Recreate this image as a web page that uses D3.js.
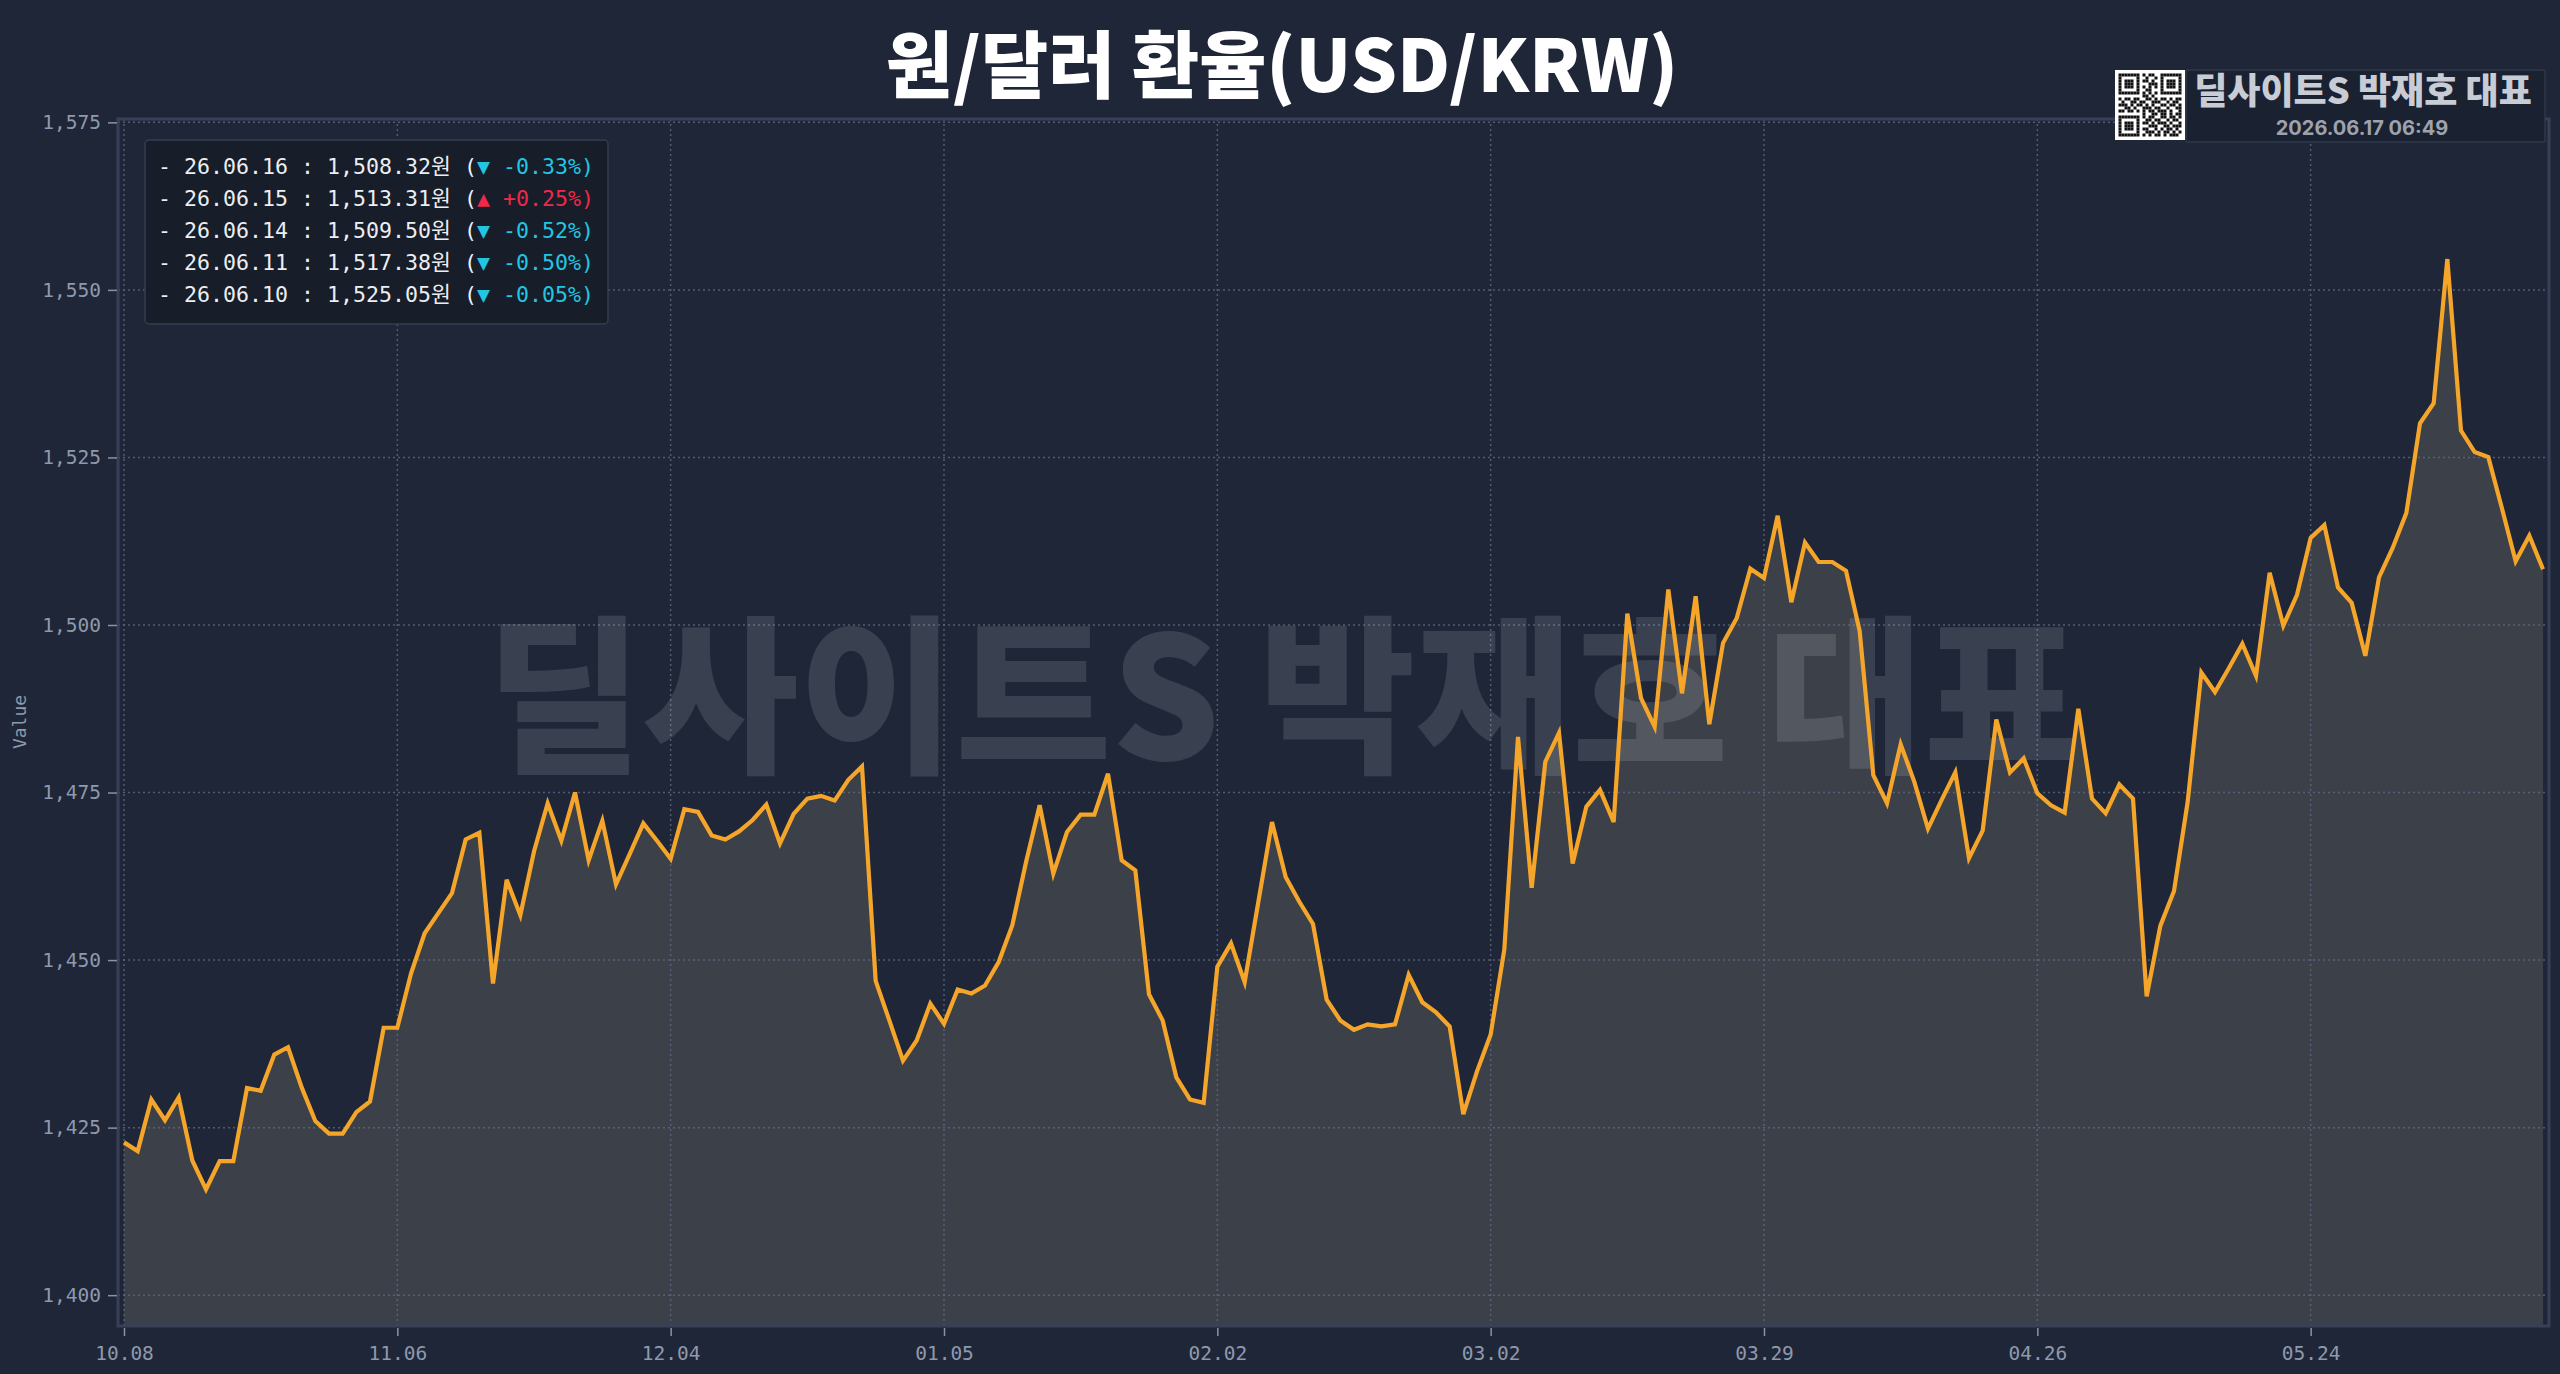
<!DOCTYPE html>
<html>
<head>
<meta charset="utf-8">
<script src="https://cdn.jsdelivr.net/npm/d3@7"></script>
<style>
  html, body { margin: 0; padding: 0; background: #1e2638; }
  svg { display: block; }
</style>
</head>
<body>
<div id="chart"></div>
<script>
// x axis: one label every 20 points
var tickLabels = ["10.08", "11.06", "12.04", "01.05", "02.02", "03.02", "03.29", "04.26", "05.24"];
var tickEvery = 20;
var yTicks = [1400, 1425, 1450, 1475, 1500, 1525, 1550, 1575];

// USD/KRW daily close
var rates = [
  1422.8, 1421.5, 1429.2, 1426.1, 1429.5, 1420.1, 1415.8, 1420.0, 1420.0, 1430.9,
  1430.5, 1435.9, 1437.0, 1431.0, 1426.0, 1424.1, 1424.1, 1427.3, 1428.9, 1439.9,
  1439.9, 1448.0, 1454.0, 1457.0, 1460.0, 1468.0, 1469.0, 1446.5, 1462.0, 1456.7,
  1466.2, 1473.4, 1467.8, 1475.0, 1464.9, 1470.8, 1461.3, 1465.8, 1470.4, 1467.8,
  1465.1, 1472.5, 1472.1, 1468.6, 1468.0, 1469.2, 1470.9, 1473.2, 1467.4, 1471.8,
  1474.1, 1474.5, 1473.8, 1476.9, 1478.9, 1446.9, 1441.0, 1435.0, 1438.0, 1443.5,
  1440.5, 1445.6, 1445.0, 1446.2, 1449.7, 1455.2, 1464.6, 1473.1, 1462.9, 1469.1,
  1471.7, 1471.7, 1477.8, 1464.9, 1463.4, 1444.9, 1441.0, 1432.5, 1429.2, 1428.7,
  1449.0, 1452.5, 1446.7, 1458.7, 1470.6, 1462.4, 1458.7, 1455.4, 1444.1, 1441.0,
  1439.6, 1440.4, 1440.1, 1440.4, 1447.8, 1443.7, 1442.2, 1440.1, 1427.0, 1433.4,
  1438.9, 1451.6, 1483.3, 1460.8, 1479.6, 1483.9, 1464.4, 1472.9, 1475.4, 1470.6,
  1501.7, 1489.1, 1484.8, 1505.3, 1489.8, 1504.3, 1485.2, 1497.3, 1501.0, 1508.4,
  1507.0, 1516.3, 1503.4, 1512.3, 1509.4, 1509.4, 1508.1, 1499.1, 1477.6, 1473.4,
  1482.2, 1476.6, 1469.6, 1473.9, 1478.0, 1465.2, 1469.3, 1485.9, 1478.0, 1480.1,
  1474.9, 1473.1, 1472.0, 1487.5, 1474.1, 1471.9, 1476.2, 1474.1, 1444.6, 1455.1,
  1460.3, 1473.6, 1492.9, 1490.0, 1493.5, 1497.2, 1492.4, 1507.8, 1499.9, 1504.5,
  1513.0, 1514.9, 1505.6, 1503.3, 1495.4, 1507.1, 1511.5, 1516.7, 1530.1, 1533.1,
  1554.6, 1529.0, 1525.8, 1525.05, 1517.38, 1509.50, 1513.31, 1508.32
];

// last five days box
var legendDates = ["26.06.16", "26.06.15", "26.06.14", "26.06.11", "26.06.10"];
var legendValues = [1508.32, 1513.31, 1509.50, 1517.38, 1525.05];
var legendChanges = [-0.33, 0.25, -0.52, -0.50, -0.05];

var titleText = "원/달러 환율(USD/KRW)";
var markText = "딜사이트S 박재호 대표";
var stampText = "2026.06.17 06:49";

// fake qr pattern for the badge
var qrRows = [
  "111111101011001111111",
  "100000100100101000001",
  "101110101101001011101",
  "101110100011101011101",
  "101110101010101011101",
  "100000100110001000001",
  "111111101010101111111",
  "000000001101000000000",
  "101101100110101101011",
  "010011011001110010110",
  "111010110101001101101",
  "001101001110110010011",
  "110110101011011101001",
  "000000001001101101011",
  "111111101011001101101",
  "100000100110110010110",
  "101110101101011101001",
  "101110100011100110111",
  "101110101100101011010",
  "100000100111010110101",
  "111111101010110101110"
];

var W = 2560, H = 1374;
var plot = {left: 118, right: 2549, top: 119, bottom: 1326};
var bg = "#1e2638";

var svg = d3.select("#chart").append("svg")
  .attr("width", W)
  .attr("height", H);

svg.append("rect").attr("width", W).attr("height", H).attr("fill", bg);

var x = d3.scaleLinear().domain([0, rates.length - 1]).range([124, 2543]);
var y = d3.scaleLinear().domain([1395.4, 1575.5]).range([plot.bottom, plot.top]);

// area under the line
var area = d3.area()
  .x(function(d, i) { return x(i); })
  .y0(plot.bottom)
  .y1(function(d) { return y(d); });

svg.append("path")
  .datum(rates)
  .attr("d", area)
  .attr("fill", "#3c4049");

// grid
var tickIdx = tickLabels.map(function(d, i) { return i * tickEvery; });
var grid = svg.append("g");
grid.selectAll(".hg").data(yTicks).enter().append("line")
  .attr("x1", plot.left).attr("x2", plot.right)
  .attr("y1", function(d) { return y(d); })
  .attr("y2", function(d) { return y(d); });
grid.selectAll(".vg").data(tickIdx).enter().append("line")
  .attr("y1", plot.top).attr("y2", plot.bottom)
  .attr("x1", function(d) { return x(d); })
  .attr("x2", function(d) { return x(d); });
grid.selectAll("line")
  .attr("stroke", "#5e6984")
  .attr("stroke-width", 1.5)
  .attr("stroke-dasharray", "2,3")
  .attr("opacity", 0.8);

// plot frame
svg.append("rect")
  .attr("x", plot.left).attr("y", plot.top)
  .attr("width", plot.right - plot.left).attr("height", plot.bottom - plot.top)
  .attr("fill", "none")
  .attr("stroke", "#374058")
  .attr("stroke-width", 3);

// big watermark
svg.append("text")
  .attr("x", 1283).attr("y", 686)
  .attr("text-anchor", "middle")
  .attr("dominant-baseline", "central")
  .style("font-family", "'Noto Sans CJK KR', sans-serif")
  .style("font-weight", 900)
  .style("font-size", "170px")
  .attr("fill", "#ffffff")
  .attr("fill-opacity", 0.12)
  .text(markText);

// the line
var line = d3.line()
  .x(function(d, i) { return x(i); })
  .y(function(d) { return y(d); });

svg.append("path")
  .datum(rates)
  .attr("d", line)
  .attr("fill", "none")
  .attr("stroke", "#f5a62a")
  .attr("stroke-width", 4.2)
  .attr("stroke-linejoin", "miter");

// axes
var axisFont = "'DejaVu Sans Mono', monospace";
var yAxis = svg.append("g")
  .attr("transform", "translate(" + (plot.left - 1) + ",0)")
  .call(d3.axisLeft(y).tickValues(yTicks).tickFormat(d3.format(",")).tickSize(9).tickPadding(7));
var xAxis = svg.append("g")
  .attr("transform", "translate(0," + (plot.bottom + 2) + ")")
  .call(d3.axisBottom(x).tickValues(tickIdx)
    .tickFormat(function(d, i) { return tickLabels[i]; })
    .tickSize(8).tickPadding(10));

[yAxis, xAxis].forEach(function(a) {
  a.select(".domain").remove();
  a.selectAll("line").attr("stroke", "#8a93a6").attr("stroke-width", 1.5);
  a.selectAll("text")
    .attr("fill", "#8f99ac")
    .style("font-family", axisFont)
    .style("font-size", "19.5px");
});

svg.append("text")
  .attr("transform", "translate(19,722) rotate(-90)")
  .attr("text-anchor", "middle")
  .attr("dominant-baseline", "central")
  .style("font-family", axisFont)
  .style("font-size", "18px")
  .attr("fill", "#8f99ac")
  .text("Value");

// title
svg.append("text")
  .attr("x", 1282).attr("y", 60)
  .attr("text-anchor", "middle")
  .attr("dominant-baseline", "central")
  .style("font-family", "'Noto Sans CJK KR', sans-serif")
  .style("font-weight", 900)
  .style("font-size", "73px")
  .attr("fill", "#ffffff")
  .text(titleText);

// legend box
var lg = svg.append("g");
lg.append("rect")
  .attr("x", 145).attr("y", 140)
  .attr("width", 463).attr("height", 184)
  .attr("rx", 4)
  .attr("fill", "#171d29")
  .attr("stroke", "#353d4f")
  .attr("stroke-width", 1.5);

var fmt = d3.format(",.2f");
legendDates.forEach(function(d, i) {
  var up = legendChanges[i] > 0;
  var col = up ? "#f0284a" : "#22c6e2";
  var t = lg.append("text")
    .attr("x", 158).attr("y", 174 + i * 32)
    .style("font-family", "'DejaVu Sans Mono', 'Noto Sans CJK KR', monospace")
    .style("font-size", "21.6px")
    .attr("fill", "#eceef2")
    .attr("xml:space", "preserve");
  t.append("tspan").text("- " + d + " : " + fmt(legendValues[i]) + "원 (");
  t.append("tspan").attr("fill", col)
    .text((up ? "▲ +" : "▼ ") + legendChanges[i].toFixed(2) + "%)");
});

// top right badge
var qrX = 2115, qrY = 70, qrS = 70;
svg.append("rect").attr("x", qrX).attr("y", qrY).attr("width", qrS).attr("height", qrS).attr("fill", "#ffffff");
var cell = 3;
var qg = svg.append("g").attr("transform", "translate(" + (qrX + 3.5) + "," + (qrY + 3.5) + ")");
qrRows.forEach(function(row, r) {
  row.split("").forEach(function(c, k) {
    if (c === "1") {
      qg.append("rect").attr("x", k * cell).attr("y", r * cell)
        .attr("width", cell).attr("height", cell).attr("fill", "#111111");
    }
  });
});

svg.append("rect")
  .attr("x", 2186).attr("y", 70)
  .attr("width", 359).attr("height", 72)
  .attr("rx", 2)
  .attr("fill", "#1a2130")
  .attr("stroke", "#2f384a")
  .attr("stroke-width", 1.5);

svg.append("text")
  .attr("x", 2363).attr("y", 104)
  .attr("text-anchor", "middle")
  .style("font-family", "'Noto Sans CJK KR', sans-serif")
  .style("font-weight", 900)
  .style("font-size", "36px")
  .attr("fill", "#c8ccd5")
  .text(markText);

svg.append("text")
  .attr("x", 2362).attr("y", 135)
  .attr("text-anchor", "middle")
  .style("font-family", "Inter, 'Noto Sans', sans-serif")
  .style("font-weight", 700)
  .style("font-size", "20px")
  .attr("fill", "#9da2ad")
  .text(stampText);
</script>
</body>
</html>
